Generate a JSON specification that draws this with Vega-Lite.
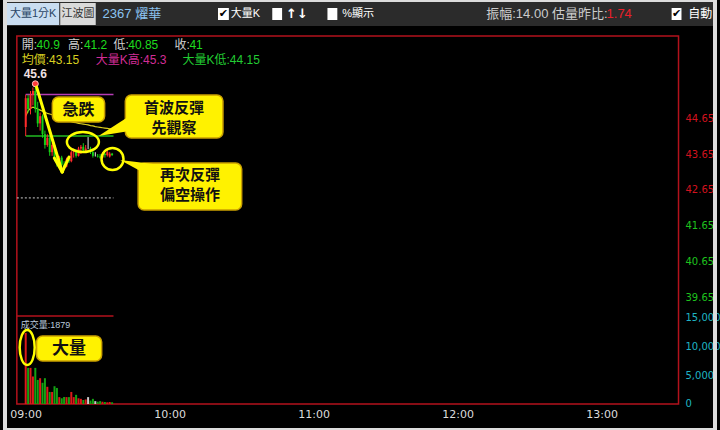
{
"$schema":"https://vega.github.io/schema/vega-lite/v6.json",
"width":720,"height":430,"autosize":{"type":"none"},"padding":0,
"background":"#000000",
"config":{"view":{"stroke":null},"text":{"font":"Liberation Sans, Noto Sans CJK TC"},"axis":{"grid":false,"domain":false,"ticks":false,"tickSize":0}},
"data":{"values":[
{"t":"09:00","o":44.40,"h":45.30,"l":44.15,"c":45.20,"v":12400,"avg":44.70},
{"t":"09:01","o":45.20,"h":45.30,"l":44.80,"c":44.90,"v":6300,"avg":44.85},
{"t":"09:02","o":44.90,"h":45.40,"l":44.75,"c":45.30,"v":6300,"avg":44.92},
{"t":"09:03","o":45.30,"h":45.50,"l":45.00,"c":45.40,"v":4800,"avg":44.95},
{"t":"09:04","o":45.40,"h":45.60,"l":44.80,"c":44.90,"v":6300,"avg":44.93},
{"t":"09:05","o":44.90,"h":45.10,"l":44.40,"c":44.50,"v":4200,"avg":44.90},
{"t":"09:06","o":44.50,"h":44.80,"l":44.30,"c":44.70,"v":4500,"avg":44.87},
{"t":"09:07","o":44.70,"h":44.75,"l":44.10,"c":44.20,"v":3700,"avg":44.84},
{"t":"09:08","o":44.20,"h":44.30,"l":43.80,"c":43.90,"v":4500,"avg":44.81},
{"t":"09:09","o":43.90,"h":44.20,"l":43.85,"c":44.10,"v":3000,"avg":44.78},
{"t":"09:10","o":44.10,"h":44.15,"l":43.60,"c":43.70,"v":2100,"avg":44.76},
{"t":"09:11","o":43.70,"h":43.95,"l":43.60,"c":43.90,"v":2100,"avg":44.74},
{"t":"09:12","o":43.90,"h":43.95,"l":43.45,"c":43.55,"v":3100,"avg":44.72},
{"t":"09:13","o":43.55,"h":43.65,"l":43.30,"c":43.40,"v":2800,"avg":44.69},
{"t":"09:14","o":43.40,"h":43.60,"l":43.35,"c":43.55,"v":1200,"avg":44.67},
{"t":"09:15","o":43.55,"h":43.60,"l":43.28,"c":43.35,"v":1000,"avg":44.64},
{"t":"09:16","o":43.35,"h":43.45,"l":43.28,"c":43.30,"v":1200,"avg":44.61},
{"t":"09:17","o":43.30,"h":43.55,"l":43.28,"c":43.50,"v":1200,"avg":44.59},
{"t":"09:18","o":43.50,"h":43.60,"l":43.40,"c":43.45,"v":1200,"avg":44.57},
{"t":"09:19","o":43.45,"h":43.75,"l":43.42,"c":43.70,"v":2100,"avg":44.55},
{"t":"09:20","o":43.70,"h":43.80,"l":43.55,"c":43.75,"v":1200,"avg":44.53},
{"t":"09:21","o":43.75,"h":43.78,"l":43.55,"c":43.60,"v":1600,"avg":44.52},
{"t":"09:22","o":43.60,"h":43.85,"l":43.58,"c":43.80,"v":1000,"avg":44.50},
{"t":"09:23","o":43.80,"h":43.90,"l":43.65,"c":43.85,"v":900,"avg":44.49},
{"t":"09:24","o":43.85,"h":43.95,"l":43.70,"c":43.75,"v":700,"avg":44.48},
{"t":"09:25","o":43.75,"h":43.90,"l":43.70,"c":43.80,"v":800,"avg":44.47},
{"t":"09:26","o":43.80,"h":44.12,"l":43.78,"c":43.80,"v":1200,"avg":44.46},
{"t":"09:27","o":43.80,"h":43.85,"l":43.65,"c":43.70,"v":600,"avg":44.44},
{"t":"09:28","o":43.70,"h":43.75,"l":43.55,"c":43.60,"v":900,"avg":44.43},
{"t":"09:29","o":43.60,"h":43.70,"l":43.58,"c":43.60,"v":500,"avg":44.41},
{"t":"09:30","o":43.60,"h":43.65,"l":43.55,"c":43.58,"v":400,"avg":44.40},
{"t":"09:31","o":43.58,"h":43.65,"l":43.52,"c":43.55,"v":500,"avg":44.39},
{"t":"09:32","o":43.55,"h":43.70,"l":43.52,"c":43.65,"v":400,"avg":44.38},
{"t":"09:33","o":43.65,"h":43.68,"l":43.55,"c":43.62,"v":350,"avg":44.37},
{"t":"09:34","o":43.62,"h":43.75,"l":43.58,"c":43.70,"v":300,"avg":44.36},
{"t":"09:35","o":43.58,"h":43.70,"l":43.55,"c":43.66,"v":350,"avg":44.35},
{"t":"09:36","o":43.66,"h":43.68,"l":43.60,"c":43.62,"v":300,"avg":44.34}
],"format":{"parse":{"t":"utc:'%H:%M'"}}},
"resolve":{"scale":{"y":"independent"},"axis":{"y":"independent"}},
"layer":[
{"layer":[
{"data":{"values":[{}]},"mark":{"type":"rect","color":"#2b2b2b"},"encoding":{
 "x":{"datum":{"year":1900,"month":1,"date":1,"hours":8,"minutes":51,"seconds":22,"utc":true},"type":"temporal","scale":{"type":"utc","nice":false,"domain":[{"year":1900,"month":1,"date":1,"hours":8,"minutes":51,"seconds":22,"utc":true},{"year":1900,"month":1,"date":1,"hours":13,"minutes":47,"seconds":16,"utc":true}]}},
 "x2":{"datum":{"year":1900,"month":1,"date":1,"hours":13,"minutes":47,"seconds":16,"utc":true}},
 "y":{"datum":47.9278,"type":"quantitative","scale":{"domain":[35.9833,47.9278],"nice":false,"zero":false}},
 "y2":{"datum":47.206}}},
{"data":{"values":[{}]},"mark":{"type":"rect","color":"#c9ddf1"},"encoding":{
 "x":{"datum":{"year":1900,"month":1,"date":1,"hours":8,"minutes":52,"seconds":12,"utc":true},"type":"temporal"},
 "x2":{"datum":{"year":1900,"month":1,"date":1,"hours":9,"minutes":13,"seconds":58,"utc":true}},
 "y":{"datum":47.844,"type":"quantitative"},"y2":{"datum":47.233}}},
{"data":{"values":[{}]},"mark":{"type":"rect","color":"#dadada"},"encoding":{
 "x":{"datum":{"year":1900,"month":1,"date":1,"hours":9,"minutes":14,"seconds":23,"utc":true},"type":"temporal"},
 "x2":{"datum":{"year":1900,"month":1,"date":1,"hours":9,"minutes":29,"seconds":11,"utc":true}},
 "y":{"datum":47.844,"type":"quantitative"},"y2":{"datum":47.233}}},
{"data":{"values":[{}]},"mark":{"type":"text","color":"#2a4565","fontSize":11,"align":"center","baseline":"middle"},"encoding":{
 "x":{"datum":{"year":1900,"month":1,"date":1,"hours":9,"minutes":3,"seconds":5,"utc":true},"type":"temporal"},
 "y":{"datum":47.539,"type":"quantitative"},"text":{"value":"大量1分K"}}},
{"data":{"values":[{}]},"mark":{"type":"text","color":"#333333","fontSize":11,"align":"center","baseline":"middle"},"encoding":{
 "x":{"datum":{"year":1900,"month":1,"date":1,"hours":9,"minutes":21,"seconds":47,"utc":true},"type":"temporal"},
 "y":{"datum":47.539,"type":"quantitative"},"text":{"value":"江波圖"}}},
{"data":{"values":[{}]},"mark":{"type":"text","color":"#8cc4f2","fontSize":13,"align":"left","baseline":"middle"},"encoding":{
 "x":{"datum":{"year":1900,"month":1,"date":1,"hours":9,"minutes":32,"seconds":3,"utc":true},"type":"temporal"},
 "y":{"datum":47.539,"type":"quantitative"},"text":{"value":"2367 燿華"}}},
{"data":{"values":[{}]},"mark":{"type":"rect","color":"#ffffff"},"encoding":{
 "x":{"datum":{"year":1900,"month":1,"date":1,"hours":10,"minutes":20,"seconds":8,"utc":true},"type":"temporal"},
 "x2":{"datum":{"year":1900,"month":1,"date":1,"hours":10,"minutes":24,"seconds":40,"utc":true}},
 "y":{"datum":47.706,"type":"quantitative"},"y2":{"datum":47.372}}},
{"data":{"values":[{}]},"mark":{"type":"rect","color":"#ffffff"},"encoding":{
 "x":{"datum":{"year":1900,"month":1,"date":1,"hours":10,"minutes":42,"seconds":45,"utc":true},"type":"temporal"},
 "x2":{"datum":{"year":1900,"month":1,"date":1,"hours":10,"minutes":46,"seconds":51,"utc":true}},
 "y":{"datum":47.706,"type":"quantitative"},"y2":{"datum":47.372}}},
{"data":{"values":[{}]},"mark":{"type":"rect","color":"#ffffff"},"encoding":{
 "x":{"datum":{"year":1900,"month":1,"date":1,"hours":11,"minutes":5,"seconds":45,"utc":true},"type":"temporal"},
 "x2":{"datum":{"year":1900,"month":1,"date":1,"hours":11,"minutes":9,"seconds":52,"utc":true}},
 "y":{"datum":47.706,"type":"quantitative"},"y2":{"datum":47.372}}},
{"data":{"values":[{}]},"mark":{"type":"rect","color":"#ffffff"},"encoding":{
 "x":{"datum":{"year":1900,"month":1,"date":1,"hours":13,"minutes":29,"seconds":11,"utc":true},"type":"temporal"},
 "x2":{"datum":{"year":1900,"month":1,"date":1,"hours":13,"minutes":33,"seconds":18,"utc":true}},
 "y":{"datum":47.706,"type":"quantitative"},"y2":{"datum":47.372}}},
{"data":{"values":[{}]},"mark":{"type":"text","color":"#000000","fontSize":11,"fontWeight":"bold","font":"DejaVu Sans","align":"center","baseline":"middle"},"encoding":{
 "x":{"datum":{"year":1900,"month":1,"date":1,"hours":10,"minutes":22,"seconds":24,"utc":true},"type":"temporal"},
 "y":{"datum":47.539,"type":"quantitative"},"text":{"value":"✔"}}},
{"data":{"values":[{}]},"mark":{"type":"text","color":"#000000","fontSize":11,"fontWeight":"bold","font":"DejaVu Sans","align":"center","baseline":"middle"},"encoding":{
 "x":{"datum":{"year":1900,"month":1,"date":1,"hours":13,"minutes":31,"seconds":14,"utc":true},"type":"temporal"},
 "y":{"datum":47.539,"type":"quantitative"},"text":{"value":"✔"}}},
{"data":{"values":[{}]},"mark":{"type":"text","color":"#ffffff","fontSize":11,"align":"left","baseline":"middle"},"encoding":{
 "x":{"datum":{"year":1900,"month":1,"date":1,"hours":10,"minutes":25,"seconds":29,"utc":true},"type":"temporal"},
 "y":{"datum":47.539,"type":"quantitative"},"text":{"value":"大量K"}}},
{"data":{"values":[{}]},"mark":{"type":"text","color":"#ffffff","fontSize":13,"fontWeight":"bold","font":"DejaVu Sans","align":"left","baseline":"middle"},"encoding":{
 "x":{"datum":{"year":1900,"month":1,"date":1,"hours":10,"minutes":48,"seconds":30,"utc":true},"type":"temporal"},
 "y":{"datum":47.539,"type":"quantitative"},"text":{"value":"↑↓"}}},
{"data":{"values":[{}]},"mark":{"type":"text","color":"#ffffff","fontSize":11,"align":"left","baseline":"middle"},"encoding":{
 "x":{"datum":{"year":1900,"month":1,"date":1,"hours":11,"minutes":11,"seconds":55,"utc":true},"type":"temporal"},
 "y":{"datum":47.539,"type":"quantitative"},"text":{"value":"%顯示"}}},
{"data":{"values":[{}]},"mark":{"type":"text","color":"#cccccc","fontSize":13,"align":"left","baseline":"middle"},"encoding":{
 "x":{"datum":{"year":1900,"month":1,"date":1,"hours":12,"minutes":11,"seconds":55,"utc":true},"type":"temporal"},
 "y":{"datum":47.539,"type":"quantitative"},"text":{"value":"振幅:14.00 估量昨比:"}}},
{"data":{"values":[{}]},"mark":{"type":"text","color":"#e8202a","fontSize":13,"align":"left","baseline":"middle"},"encoding":{
 "x":{"datum":{"year":1900,"month":1,"date":1,"hours":13,"minutes":2,"seconds":4,"utc":true},"type":"temporal"},
 "y":{"datum":47.539,"type":"quantitative"},"text":{"value":"1.74"}}},
{"data":{"values":[{}]},"mark":{"type":"text","color":"#ffffff","fontSize":12,"align":"left","baseline":"middle"},"encoding":{
 "x":{"datum":{"year":1900,"month":1,"date":1,"hours":13,"minutes":36,"seconds":10,"utc":true},"type":"temporal"},
 "y":{"datum":47.539,"type":"quantitative"},"text":{"value":"自動"}}},
{"data":{"values":[{}]},"mark":{"type":"rect","fill":"transparent","stroke":"#b3121c","strokeWidth":1.5},"encoding":{
 "x":{"datum":{"year":1900,"month":1,"date":1,"hours":8,"minutes":56,"seconds":18,"utc":true},"type":"temporal"},
 "x2":{"datum":{"year":1900,"month":1,"date":1,"hours":13,"minutes":32,"seconds":4,"utc":true}},
 "y":{"datum":46.928,"type":"quantitative"},"y2":{"datum":36.706}}},
{"data":{"values":[{}]},"mark":{"type":"rule","color":"#b3121c","strokeWidth":1.5},"encoding":{
 "x":{"datum":{"year":1900,"month":1,"date":1,"hours":8,"minutes":56,"seconds":18,"utc":true},"type":"temporal"},
 "x2":{"datum":{"year":1900,"month":1,"date":1,"hours":9,"minutes":36,"seconds":35,"utc":true}},
 "y":{"datum":39.15,"type":"quantitative"}}},
{"data":{"values":[{}]},"mark":{"type":"rule","color":"#cfcfcf","strokeWidth":1,"strokeDash":[2,2]},"encoding":{
 "x":{"datum":{"year":1900,"month":1,"date":1,"hours":8,"minutes":56,"seconds":18,"utc":true},"type":"temporal"},
 "x2":{"datum":{"year":1900,"month":1,"date":1,"hours":9,"minutes":36,"seconds":35,"utc":true}},
 "y":{"datum":42.43,"type":"quantitative"}}},
{"data":{"values":[{}]},"mark":{"type":"rule","color":"#b53cb5","strokeWidth":1.5},"encoding":{
 "x":{"datum":{"year":1900,"month":1,"date":1,"hours":9,"minutes":0,"seconds":0,"utc":true},"type":"temporal"},
 "x2":{"datum":{"year":1900,"month":1,"date":1,"hours":9,"minutes":36,"seconds":35,"utc":true}},
 "y":{"datum":45.3,"type":"quantitative"}}},
{"data":{"values":[{}]},"mark":{"type":"rule","color":"#22bb22","strokeWidth":1.5},"encoding":{
 "x":{"datum":{"year":1900,"month":1,"date":1,"hours":9,"minutes":0,"seconds":0,"utc":true},"type":"temporal"},
 "x2":{"datum":{"year":1900,"month":1,"date":1,"hours":9,"minutes":36,"seconds":35,"utc":true}},
 "y":{"datum":44.15,"type":"quantitative"}}},
{"mark":{"type":"line","color":"#d8cc20","strokeWidth":1.2},"encoding":{
 "x":{"field":"t","type":"temporal","title":null},
 "y":{"field":"avg","type":"quantitative","title":null}}},
{"mark":{"type":"rule","strokeWidth":1},"encoding":{
 "x":{"field":"t","type":"temporal","title":null,"axis":{"title":null,"orient":"bottom","offset":-26,"values":[{"year":1900,"month":1,"date":1,"hours":9,"minutes":0,"utc":true},{"year":1900,"month":1,"date":1,"hours":10,"minutes":0,"utc":true},{"year":1900,"month":1,"date":1,"hours":11,"minutes":0,"utc":true},{"year":1900,"month":1,"date":1,"hours":12,"minutes":0,"utc":true},{"year":1900,"month":1,"date":1,"hours":13,"minutes":0,"utc":true}],"format":"%H:%M","labelFont":"DejaVu Sans","labelFontSize":11,"labelColor":"#dcdcdc","labelPadding":4,"labelFlush":false,"labelOverlap":false}},
 "y":{"field":"l","type":"quantitative","title":null,"axis":{"title":null,"orient":"right","offset":-37,"values":[39.65,40.65,41.65,42.65,43.65,44.65],"labelExpr":"format(datum.value, '.2f')","labelFont":"DejaVu Sans","labelFontSize":10,"labelPadding":2,"labelOverlap":false,"labelAlign":"left","labelColor":{"condition":{"test":"datum.value > 42.43","value":"#d3121e"},"value":"#1ec21e"}}},
 "y2":{"field":"h"},
 "color":{"condition":[{"test":"datum.c > datum.o","value":"#ff2b2b"},{"test":"datum.c < datum.o","value":"#16d016"}],"value":"#e8e8e8"}}},
{"mark":{"type":"bar","size":2},"encoding":{
 "x":{"field":"t","type":"temporal","title":null},
 "y":{"field":"o","type":"quantitative","title":null},
 "y2":{"field":"c"},
 "color":{"condition":[{"test":"datum.c > datum.o","value":"#ff2b2b"},{"test":"datum.c < datum.o","value":"#16d016"}],"value":"#e8e8e8"}}},
{"transform":[{"joinaggregate":[{"op":"max","field":"h","as":"mh"}]},{"filter":"datum.h == datum.mh"}],
 "mark":{"type":"point","filled":true,"color":"#ff3b3b","stroke":"#ffc0c0","strokeWidth":1,"size":36,"opacity":1},"encoding":{
 "x":{"field":"t","type":"temporal","title":null},
 "y":{"field":"h","type":"quantitative","title":null}}},
{"transform":[{"joinaggregate":[{"op":"max","field":"h","as":"mh"}]},{"filter":"datum.h == datum.mh"}],
 "mark":{"type":"text","color":"#f0e0e0","fontSize":12,"fontWeight":"bold","dy":-10,"align":"center","baseline":"middle"},"encoding":{
 "x":{"field":"t","type":"temporal","title":null},
 "y":{"field":"h","type":"quantitative","title":null},
 "text":{"field":"h","type":"quantitative","format":".1f"}}},
{"data":{"values":[{}]},"mark":{"type":"text","color":"#cfcfcf","fontSize":12,"align":"left","baseline":"middle"},"encoding":{
 "x":{"datum":{"year":1900,"month":1,"date":1,"hours":8,"minutes":58,"seconds":21,"utc":true},"type":"temporal"},
 "y":{"datum":46.678,"type":"quantitative"},"text":{"value":"開:"}}},
{"data":{"values":[{}]},"mark":{"type":"text","color":"#1edc1e","fontSize":12,"align":"left","baseline":"middle"},"encoding":{
 "x":{"datum":{"year":1900,"month":1,"date":1,"hours":9,"minutes":4,"seconds":31,"utc":true},"type":"temporal"},
 "y":{"datum":46.678,"type":"quantitative"},"text":{"value":"40.9"}}},
{"data":{"values":[{}]},"mark":{"type":"text","color":"#cfcfcf","fontSize":12,"align":"left","baseline":"middle"},"encoding":{
 "x":{"datum":{"year":1900,"month":1,"date":1,"hours":9,"minutes":17,"seconds":40,"utc":true},"type":"temporal"},
 "y":{"datum":46.678,"type":"quantitative"},"text":{"value":"高:"}}},
{"data":{"values":[{}]},"mark":{"type":"text","color":"#1edc1e","fontSize":12,"align":"left","baseline":"middle"},"encoding":{
 "x":{"datum":{"year":1900,"month":1,"date":1,"hours":9,"minutes":24,"seconds":15,"utc":true},"type":"temporal"},
 "y":{"datum":46.678,"type":"quantitative"},"text":{"value":"41.2"}}},
{"data":{"values":[{}]},"mark":{"type":"text","color":"#cfcfcf","fontSize":12,"align":"left","baseline":"middle"},"encoding":{
 "x":{"datum":{"year":1900,"month":1,"date":1,"hours":9,"minutes":36,"seconds":35,"utc":true},"type":"temporal"},
 "y":{"datum":46.678,"type":"quantitative"},"text":{"value":"低:"}}},
{"data":{"values":[{}]},"mark":{"type":"text","color":"#1edc1e","fontSize":12,"align":"left","baseline":"middle"},"encoding":{
 "x":{"datum":{"year":1900,"month":1,"date":1,"hours":9,"minutes":42,"seconds":44,"utc":true},"type":"temporal"},
 "y":{"datum":46.678,"type":"quantitative"},"text":{"value":"40.85"}}},
{"data":{"values":[{}]},"mark":{"type":"text","color":"#cfcfcf","fontSize":12,"align":"left","baseline":"middle"},"encoding":{
 "x":{"datum":{"year":1900,"month":1,"date":1,"hours":10,"minutes":2,"seconds":3,"utc":true},"type":"temporal"},
 "y":{"datum":46.678,"type":"quantitative"},"text":{"value":"收:"}}},
{"data":{"values":[{}]},"mark":{"type":"text","color":"#1edc1e","fontSize":12,"align":"left","baseline":"middle"},"encoding":{
 "x":{"datum":{"year":1900,"month":1,"date":1,"hours":10,"minutes":8,"seconds":13,"utc":true},"type":"temporal"},
 "y":{"datum":46.678,"type":"quantitative"},"text":{"value":"41"}}},
{"data":{"values":[{}]},"mark":{"type":"text","color":"#d8d020","fontSize":12,"align":"left","baseline":"middle"},"encoding":{
 "x":{"datum":{"year":1900,"month":1,"date":1,"hours":8,"minutes":58,"seconds":21,"utc":true},"type":"temporal"},
 "y":{"datum":46.261,"type":"quantitative"},"text":{"value":"均價:43.15"}}},
{"data":{"values":[{}]},"mark":{"type":"text","color":"#d22d96","fontSize":12,"align":"left","baseline":"middle"},"encoding":{
 "x":{"datum":{"year":1900,"month":1,"date":1,"hours":9,"minutes":29,"seconds":11,"utc":true},"type":"temporal"},
 "y":{"datum":46.261,"type":"quantitative"},"text":{"value":"大量K高:45.3"}}},
{"data":{"values":[{}]},"mark":{"type":"text","color":"#22cc33","fontSize":12,"align":"left","baseline":"middle"},"encoding":{
 "x":{"datum":{"year":1900,"month":1,"date":1,"hours":10,"minutes":5,"seconds":21,"utc":true},"type":"temporal"},
 "y":{"datum":46.261,"type":"quantitative"},"text":{"value":"大量K低:44.15"}}},
{"data":{"values":[{}]},"mark":{"type":"rule","color":"#ffff00","strokeWidth":3,"strokeCap":"round"},"encoding":{
 "x":{"datum":{"year":1900,"month":1,"date":1,"hours":9,"minutes":4,"seconds":31,"utc":true},"type":"temporal"},
 "x2":{"datum":{"year":1900,"month":1,"date":1,"hours":9,"minutes":15,"seconds":12,"utc":true}},
 "y":{"datum":45.511,"type":"quantitative"},"y2":{"datum":43.15}}},
{"data":{"values":[{}]},"mark":{"type":"rule","color":"#ffff00","strokeWidth":3,"strokeCap":"round"},"encoding":{
 "x":{"datum":{"year":1900,"month":1,"date":1,"hours":9,"minutes":11,"seconds":55,"utc":true},"type":"temporal"},
 "x2":{"datum":{"year":1900,"month":1,"date":1,"hours":9,"minutes":15,"seconds":12,"utc":true}},
 "y":{"datum":43.539,"type":"quantitative"},"y2":{"datum":43.15}}},
{"data":{"values":[{}]},"mark":{"type":"rule","color":"#ffff00","strokeWidth":3,"strokeCap":"round"},"encoding":{
 "x":{"datum":{"year":1900,"month":1,"date":1,"hours":9,"minutes":18,"seconds":5,"utc":true},"type":"temporal"},
 "x2":{"datum":{"year":1900,"month":1,"date":1,"hours":9,"minutes":15,"seconds":12,"utc":true}},
 "y":{"datum":43.567,"type":"quantitative"},"y2":{"datum":43.15}}},
{"data":{"values":[{}]},"mark":{"type":"point","shape":"M-1,0C-1,-0.3452,-0.5523,-0.625,0,-0.625C0.5523,-0.625,1,-0.3452,1,0C1,0.3452,0.5523,0.625,0,0.625C-0.5523,0.625,-1,0.3452,-1,0Z","filled":false,"stroke":"#ffff00","strokeWidth":2.5,"size":1024,"opacity":1},"encoding":{
 "x":{"datum":{"year":1900,"month":1,"date":1,"hours":9,"minutes":23,"seconds":50,"utc":true},"type":"temporal"},
 "y":{"datum":43.983,"type":"quantitative"}}},
{"data":{"values":[{}]},"mark":{"type":"point","shape":"circle","filled":false,"stroke":"#ffff00","strokeWidth":2.5,"size":484,"opacity":1},"encoding":{
 "x":{"datum":{"year":1900,"month":1,"date":1,"hours":9,"minutes":36,"seconds":10,"utc":true},"type":"temporal"},
 "y":{"datum":43.511,"type":"quantitative"}}},
{"data":{"values":[{}]},"mark":{"type":"rect","fill":"#fff200","stroke":"#caa000","strokeWidth":1.5,"cornerRadius":6},"encoding":{
 "x":{"datum":{"year":1900,"month":1,"date":1,"hours":9,"minutes":11,"seconds":6,"utc":true},"type":"temporal"},
 "x2":{"datum":{"year":1900,"month":1,"date":1,"hours":9,"minutes":32,"seconds":53,"utc":true}},
 "y":{"datum":45.233,"type":"quantitative"},"y2":{"datum":44.539}}},
{"data":{"values":[{}]},"mark":{"type":"rect","fill":"#fff200","stroke":"#caa000","strokeWidth":1.5,"cornerRadius":6},"encoding":{
 "x":{"datum":{"year":1900,"month":1,"date":1,"hours":9,"minutes":41,"seconds":31,"utc":true},"type":"temporal"},
 "x2":{"datum":{"year":1900,"month":1,"date":1,"hours":10,"minutes":22,"seconds":12,"utc":true}},
 "y":{"datum":45.289,"type":"quantitative"},"y2":{"datum":44.094}}},
{"data":{"values":[{}]},"mark":{"type":"rect","fill":"#fff200","stroke":"#caa000","strokeWidth":1.5,"cornerRadius":6},"encoding":{
 "x":{"datum":{"year":1900,"month":1,"date":1,"hours":9,"minutes":46,"seconds":51,"utc":true},"type":"temporal"},
 "x2":{"datum":{"year":1900,"month":1,"date":1,"hours":10,"minutes":30,"seconds":0,"utc":true}},
 "y":{"datum":43.40,"type":"quantitative"},"y2":{"datum":42.094}}},
{"data":{"values":[{}]},"mark":{"type":"point","shape":"M-0.9375,0.625L1,-0.625L1,0.3125Z","filled":true,"fill":"#fff200","strokeWidth":0,"size":1024,"opacity":1},"encoding":{
 "x":{"datum":{"year":1900,"month":1,"date":1,"hours":9,"minutes":36,"seconds":35,"utc":true},"type":"temporal"},
 "y":{"datum":44.428,"type":"quantitative"}}},
{"data":{"values":[{}]},"mark":{"type":"point","shape":"M-0.944,-0.556L0.889,-0.333L0.889,0.444Z","filled":true,"fill":"#fff200","strokeWidth":0,"size":1296,"opacity":1},"encoding":{
 "x":{"datum":{"year":1900,"month":1,"date":1,"hours":9,"minutes":46,"seconds":26,"utc":true},"type":"temporal"},
 "y":{"datum":43.206,"type":"quantitative"}}},
{"data":{"values":[{}]},"mark":{"type":"text","color":"#111111","fontSize":16,"fontWeight":"bold","font":"Noto Sans CJK TC","align":"center","baseline":"middle"},"encoding":{
 "x":{"datum":{"year":1900,"month":1,"date":1,"hours":9,"minutes":21,"seconds":59,"utc":true},"type":"temporal"},
 "y":{"datum":44.872,"type":"quantitative"},"text":{"value":"急跌"}}},
{"data":{"values":[{}]},"mark":{"type":"text","color":"#111111","fontSize":15,"fontWeight":"bold","font":"Noto Sans CJK TC","align":"center","baseline":"middle"},"encoding":{
 "x":{"datum":{"year":1900,"month":1,"date":1,"hours":10,"minutes":1,"seconds":51,"utc":true},"type":"temporal"},
 "y":{"datum":44.928,"type":"quantitative"},"text":{"value":"首波反彈"}}},
{"data":{"values":[{}]},"mark":{"type":"text","color":"#111111","fontSize":15,"fontWeight":"bold","font":"Noto Sans CJK TC","align":"center","baseline":"middle"},"encoding":{
 "x":{"datum":{"year":1900,"month":1,"date":1,"hours":10,"minutes":1,"seconds":51,"utc":true},"type":"temporal"},
 "y":{"datum":44.372,"type":"quantitative"},"text":{"value":"先觀察"}}},
{"data":{"values":[{}]},"mark":{"type":"text","color":"#111111","fontSize":15,"fontWeight":"bold","font":"Noto Sans CJK TC","align":"center","baseline":"middle"},"encoding":{
 "x":{"datum":{"year":1900,"month":1,"date":1,"hours":10,"minutes":8,"seconds":26,"utc":true},"type":"temporal"},
 "y":{"datum":43.067,"type":"quantitative"},"text":{"value":"再次反彈"}}},
{"data":{"values":[{}]},"mark":{"type":"text","color":"#111111","fontSize":15,"fontWeight":"bold","font":"Noto Sans CJK TC","align":"center","baseline":"middle"},"encoding":{
 "x":{"datum":{"year":1900,"month":1,"date":1,"hours":10,"minutes":8,"seconds":26,"utc":true},"type":"temporal"},
 "y":{"datum":42.511,"type":"quantitative"},"text":{"value":"偏空操作"}}},
{"data":{"values":[{}]},"mark":{"type":"rect","fill":"transparent","stroke":"#dcdcdc","strokeWidth":4},"encoding":{
 "x":{"datum":{"year":1900,"month":1,"date":1,"hours":8,"minutes":51,"seconds":22,"utc":true},"type":"temporal"},
 "x2":{"datum":{"year":1900,"month":1,"date":1,"hours":13,"minutes":47,"seconds":16,"utc":true}},
 "y":{"datum":47.9278,"type":"quantitative"},"y2":{"datum":35.9833}}}
]},
{"layer":[
{"mark":{"type":"bar","size":2},"encoding":{
 "x":{"field":"t","type":"temporal","title":null},
 "y":{"field":"v","type":"quantitative","title":null,"scale":{"domain":[-4535,70465],"nice":false,"zero":false},"axis":{"title":null,"orient":"right","offset":-37,"values":[0,5000,10000,15000],"labelExpr":"format(datum.value, ',')","labelFont":"DejaVu Sans","labelFontSize":10,"labelColor":"#1fb4c4","labelPadding":2,"labelOverlap":false,"labelAlign":"left"}},
 "y2":{"datum":0},
 "color":{"condition":[{"test":"datum.c > datum.o","value":"#dd1a1a"},{"test":"datum.c < datum.o","value":"#13a313"}],"value":"#cccccc"}}},
{"data":{"values":[{}]},"mark":{"type":"text","color":"#b9c9dc","fontSize":9,"align":"left","baseline":"middle"},"encoding":{
 "x":{"datum":{"year":1900,"month":1,"date":1,"hours":8,"minutes":57,"seconds":57,"utc":true},"type":"temporal"},
 "y":{"datum":13779,"type":"quantitative"},"text":{"value":"成交量:1879"}}},
{"data":{"values":[{}]},"mark":{"type":"point","shape":"M0,-1C0.2375,-1,0.43,-0.5523,0.43,0C0.43,0.5523,0.2375,1,0,1C-0.2375,1,-0.43,0.5523,-0.43,0C-0.43,-0.5523,-0.2375,-1,0,-1Z","filled":false,"stroke":"#ffff00","strokeWidth":2.5,"size":1225,"opacity":1},"encoding":{
 "x":{"datum":{"year":1900,"month":1,"date":1,"hours":9,"minutes":0,"seconds":37,"utc":true},"type":"temporal"},
 "y":{"datum":9855,"type":"quantitative"}}},
{"data":{"values":[{}]},"mark":{"type":"rect","fill":"#fff200","stroke":"#caa000","strokeWidth":1.5,"cornerRadius":6},"encoding":{
 "x":{"datum":{"year":1900,"month":1,"date":1,"hours":9,"minutes":4,"seconds":31,"utc":true},"type":"temporal"},
 "x2":{"datum":{"year":1900,"month":1,"date":1,"hours":9,"minutes":31,"seconds":39,"utc":true}},
 "y":{"datum":11861,"type":"quantitative"},"y2":{"datum":7500}}},
{"data":{"values":[{}]},"mark":{"type":"text","color":"#111111","fontSize":17,"fontWeight":"bold","font":"Noto Sans CJK TC","align":"center","baseline":"middle"},"encoding":{
 "x":{"datum":{"year":1900,"month":1,"date":1,"hours":9,"minutes":18,"seconds":5,"utc":true},"type":"temporal"},
 "y":{"datum":9680,"type":"quantitative"},"text":{"value":"大量"}}}
]}
]
}
